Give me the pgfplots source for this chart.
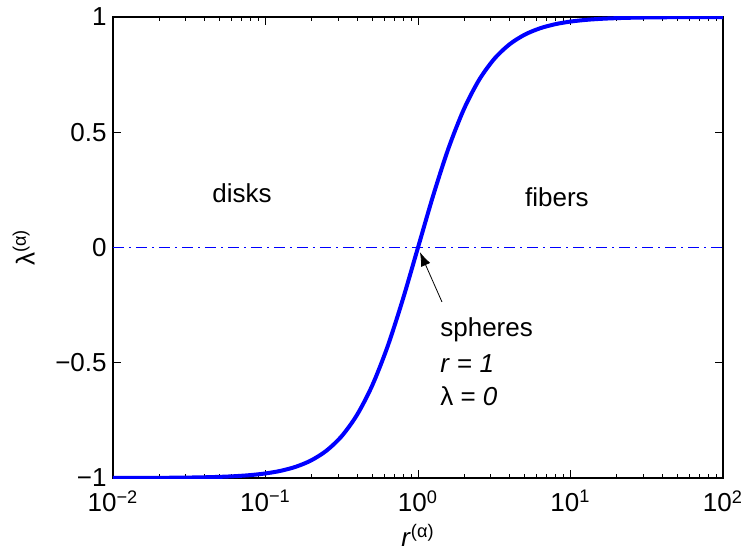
\documentclass[border=0pt]{standalone}
\usepackage{pgfplots}
\pgfplotsset{compat=1.18}
\usetikzlibrary{arrows.meta}
\usepackage{fontspec}
\setmainfont{Liberation Sans}
\begin{document}
\fontsize{13}{15.6}\selectfont
\begin{tikzpicture}
\begin{axis}[
  name=ax,
  scale only axis,
  width=305pt, height=230.5pt,
  xmode=log,
  xmin=0.01, xmax=100, ymin=-1, ymax=1,
  xtick={0.01,0.1,1,10,100},
  xticklabels={10\textsuperscript{−2},10\textsuperscript{−1},10\textsuperscript{0},10\textsuperscript{1},10\textsuperscript{2}},
  ytick={-1,-0.5,0,0.5,1},
  yticklabels={−1,−0.5,0,0.5,1},
  tick align=inside,
  tick style={black, line width=0.4pt},
  major tick length=4pt, minor tick length=2pt,
  axis line style={black, line width=0.6pt},
  every tick label/.style={font=\fontsize{13}{15.6}\selectfont},
  xticklabel style={inner sep=0pt, yshift=-6pt},
  yticklabel style={inner sep=0pt, xshift=-3pt},
  xlabel={\textit{r}\textsuperscript{(α)}},
  ylabel={λ\textsuperscript{(α)}},
  xlabel style={at={(axis description cs:0.5,0)}, anchor=north, inner sep=0pt, yshift=-23pt},
  ylabel style={at={(axis description cs:0,0.5)}, anchor=south, inner sep=0pt, yshift=39pt},
  clip=true,
]
\addplot[blue, line width=2pt, smooth] coordinates {
(0.01,-0.99980) (0.012589,-0.99968) (0.015849,-0.99950) (0.019953,-0.99920) (0.025119,-0.99874)
(0.031623,-0.99800) (0.039811,-0.99684) (0.050119,-0.99499) (0.063096,-0.99207) (0.079433,-0.98746)
(0.1,-0.98020) (0.12589,-0.96880) (0.15849,-0.95099) (0.19953,-0.92343) (0.25119,-0.88130)
(0.31623,-0.81818) (0.39811,-0.72638) (0.50119,-0.59848) (0.63096,-0.43051) (0.79433,-0.22627)
(1,0)
(1.2589,0.22627) (1.5849,0.43051) (1.9953,0.59848) (2.5119,0.72638) (3.1623,0.81818)
(3.9811,0.88130) (5.0119,0.92343) (6.3096,0.95099) (7.9433,0.96880) (10,0.98020)
(12.589,0.98746) (15.849,0.99207) (19.953,0.99499) (25.119,0.99684) (31.623,0.99800)
(39.811,0.99874) (50.119,0.99920) (63.096,0.99950) (79.433,0.99968) (100,0.99980)
};
\addplot[blue, line width=0.5pt, dash pattern=on 5.5pt off 2.5pt on 1pt off 2.5pt] coordinates {(0.01,0) (100,0)};
\node[anchor=center] at (axis cs:0.0702,0.236) {disks};
\node[anchor=center] at (axis cs:8.15,0.219) {fibers};
\node[anchor=west, inner sep=0pt] at (axis cs:1.393,-0.358) {spheres};
\node[anchor=west, inner sep=0pt] at (axis cs:1.393,-0.505) {\textit{r} = \textit{1}};
\node[anchor=west, inner sep=0pt] at (axis cs:1.393,-0.644) {λ = \textit{0}};
\draw[-{Latex[length=7pt,width=5pt]}, black, line width=0.4pt] (axis cs:1.436,-0.236) -- (axis cs:1.03,-0.02);
\end{axis}
\pgfresetboundingbox
\path ([shift={(-56.5pt,-37pt)}]ax.south west) rectangle ([shift={(10pt,8.5pt)}]ax.north east);
\end{tikzpicture}
\end{document}
